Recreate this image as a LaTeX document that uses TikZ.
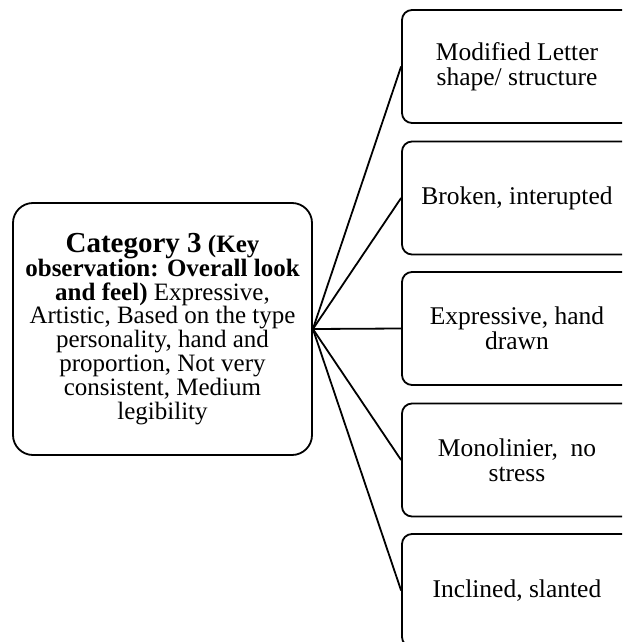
\documentclass[tikz,border=0pt]{standalone}
\usepackage{fontspec}
\setmainfont{Liberation Serif}
\begin{document}
\begin{tikzpicture}[x=1pt,y=-1pt,
  box/.style={draw,line width=1.8pt,inner sep=0pt,align=center,
    font=\fontsize{25}{23.9}\selectfont},
  mainbox/.style={box,rounded corners=20pt,minimum width=299pt,minimum height=252pt},
  leafbox/.style={box,rounded corners=10pt,minimum width=230pt,minimum height=113pt,
    font=\fontsize{25.5}{25}\selectfont},
  link/.style={line width=1.8pt}]
\useasboundingbox (0,0) rectangle (622,642);
\clip (0,0) rectangle (622,642);
\node[mainbox] (cat) at (162.5,329) {\textbf{{\fontsize{29}{23.9}\selectfont Category 3} (Key}\\
  \textbf{observation: Overall look}\\
  \textbf{and feel)} Expressive,\\
  Artistic, Based on the type\\
  personality, hand and\\
  proportion, Not very\\
  consistent, Medium\\
  legibility};
\node[leafbox] (b1) at (517,66.5) {Modified Letter\\shape/ structure};
\node[leafbox] (b2) at (517,198) {Broken, interupted};
\node[leafbox] (b3) at (517,328.5) {Expressive, hand\\drawn};
\node[leafbox] (b4) at (517,460) {Monolinier,\ \ no\\stress};
\node[leafbox] (b5) at (517,590.5) {Inclined, slanted};
\foreach \b in {b1,b2,b3,b4,b5}
  \draw[link] (cat.east) -- (\b.west);
\end{tikzpicture}
\end{document}
